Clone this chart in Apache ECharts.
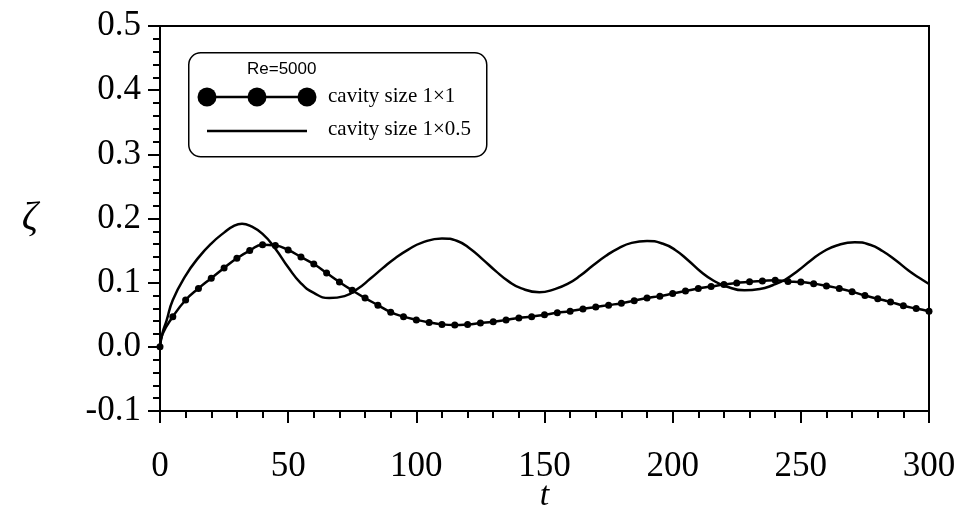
<!DOCTYPE html>
<html>
<head>
<meta charset="utf-8">
<script src="https://cdn.jsdelivr.net/npm/echarts@6/dist/echarts.min.js"></script>
<style>
  html, body { margin: 0; padding: 0; background: #fff; }
  #main { width: 962px; height: 513px; }
</style>
</head>
<body>
<div id="main"></div>
<script>
// cavity 1x1 : markers every 5 time units (the t=1 point only shapes the start)
var tSquare = [0, 1, 5, 10, 15, 20, 25, 30, 35, 40, 45, 50, 55, 60, 65, 70, 75, 80, 85, 90, 95,
  100, 105, 110, 115, 120, 125, 130, 135, 140, 145, 150, 155, 160, 165, 170, 175, 180, 185, 190, 195,
  200, 205, 210, 215, 220, 225, 230, 235, 240, 245, 250, 255, 260, 265, 270, 275, 280, 285, 290, 295, 300];
var zetaSquare = [0.0, 0.02, 0.047, 0.073, 0.091, 0.107, 0.123, 0.138, 0.150, 0.159, 0.158, 0.151, 0.140, 0.129, 0.115, 0.101, 0.088, 0.076, 0.065, 0.054, 0.047,
  0.042, 0.038, 0.035, 0.034, 0.035, 0.037, 0.039, 0.042, 0.045, 0.047, 0.050, 0.053, 0.0555, 0.059, 0.062, 0.065, 0.068, 0.072, 0.076, 0.079,
  0.083, 0.087, 0.091, 0.094, 0.097, 0.0995, 0.1015, 0.1026, 0.1037, 0.102, 0.101, 0.0985, 0.095, 0.091, 0.086, 0.080, 0.075, 0.070, 0.064, 0.0596, 0.0555];

// cavity 1x0.5 : plain line (peaks and troughs included)
var tHalf = [0, 1, 2.5, 5, 10, 15, 20, 25, 29, 32, 35, 40, 45, 50, 55, 60, 66, 72, 77, 82, 87, 92, 97,
  102, 110, 116, 121, 126, 131, 136, 141, 148, 154, 159, 164, 169, 174, 179, 184, 190, 196,
  201, 206, 211, 216, 221, 228, 234, 239, 244, 249, 254, 259, 264, 271, 277, 282, 287, 292, 296, 300];
var zetaHalf = [0.0, 0.022, 0.040, 0.073, 0.111, 0.139, 0.161, 0.178, 0.189, 0.192, 0.189, 0.176, 0.153, 0.124, 0.099, 0.084, 0.076, 0.079, 0.090, 0.106, 0.123, 0.139, 0.152,
  0.162, 0.169, 0.165, 0.153, 0.136, 0.118, 0.102, 0.091, 0.085, 0.090, 0.098, 0.111, 0.127, 0.142, 0.154, 0.162, 0.165, 0.161,
  0.151, 0.135, 0.117, 0.103, 0.094, 0.088, 0.090, 0.096, 0.105, 0.119, 0.135, 0.149, 0.158, 0.163, 0.159, 0.149, 0.135, 0.119, 0.108, 0.098];

var legendTitle = 'Re=5000';
var nameSquare = 'cavity size 1×1';
var nameHalf = 'cavity size 1×0.5';

function pairs(ts, vs, hideAt) {
  return ts.map(function (t, i) {
    var item = { value: [t, vs[i]] };
    if (hideAt && hideAt.indexOf(t) >= 0) item.symbol = 'none';
    return item;
  });
}

var serif = 'Liberation Serif';
var tickFont = { fontFamily: serif, fontSize: 35, color: '#000' };

var myChart = echarts.init(document.getElementById('main'));
myChart.setOption({
  backgroundColor: '#fff',
  animation: false,
  grid: {
    left: 160, right: 33, top: 26, bottom: 102,
    outerBoundsMode: 'none',
    show: true, borderColor: '#000', borderWidth: 2
  },
  xAxis: {
    type: 'value', min: 0, max: 300, interval: 50,
    name: 't', nameLocation: 'middle', nameGap: 68, nameMoveOverlap: false,
    nameTextStyle: { fontFamily: serif, fontStyle: 'italic', fontSize: 34, color: '#000' },
    axisLine: { onZero: false, lineStyle: { color: '#000', width: 2 } },
    axisTick: { inside: false, length: 12, lineStyle: { color: '#000', width: 2 } },
    minorTick: { show: true, splitNumber: 5, length: 7, lineStyle: { color: '#000', width: 2 } },
    axisLabel: Object.assign({ margin: 38 }, tickFont),
    splitLine: { show: false }
  },
  yAxis: {
    type: 'value', min: -0.1, max: 0.5, interval: 0.1,
    name: 'ζ', nameLocation: 'middle', nameGap: 122, nameRotate: 0, nameMoveOverlap: false,
    nameTextStyle: { fontFamily: serif, fontStyle: 'italic', fontSize: 40, color: '#000' },
    axisLine: { lineStyle: { color: '#000', width: 2 } },
    axisTick: { inside: false, length: 12, lineStyle: { color: '#000', width: 2 } },
    minorTick: { show: true, splitNumber: 5, length: 7, lineStyle: { color: '#000', width: 2 } },
    axisLabel: Object.assign({ margin: 19, formatter: function (v) { return v.toFixed(1); } }, tickFont),
    splitLine: { show: false }
  },
  series: [
    {
      name: nameHalf,
      type: 'line',
      smooth: true,
      showSymbol: false,
      lineStyle: { color: '#000', width: 2.5 },
      data: pairs(tHalf, zetaHalf)
    },
    {
      name: nameSquare,
      type: 'line',
      smooth: true,
      symbol: 'circle',
      symbolSize: 7,
      itemStyle: { color: '#000' },
      lineStyle: { color: '#000', width: 2.5 },
      data: pairs(tSquare, zetaSquare, [1])
    }
  ],
  graphic: [
    {
      type: 'rect', left: 188, top: 52, z: 10,
      shape: { width: 298, height: 104, r: 12 },
      style: { fill: '#fff', stroke: '#000', lineWidth: 1.5 }
    },
    {
      type: 'text', left: 247, top: 61, z: 11,
      style: { text: legendTitle, fontFamily: 'Liberation Sans', fontSize: 17, fill: '#000' }
    },
    {
      type: 'line', z: 11,
      shape: { x1: 207, y1: 97, x2: 307, y2: 97 },
      style: { stroke: '#000', lineWidth: 2.5 }
    },
    { type: 'circle', z: 12, shape: { cx: 207, cy: 97, r: 9.5 }, style: { fill: '#000' } },
    { type: 'circle', z: 12, shape: { cx: 257, cy: 97, r: 9.5 }, style: { fill: '#000' } },
    { type: 'circle', z: 12, shape: { cx: 307, cy: 97, r: 9.5 }, style: { fill: '#000' } },
    {
      type: 'text', left: 328, top: 86, z: 11,
      style: { text: nameSquare, fontFamily: serif, fontSize: 21, fill: '#000' }
    },
    {
      type: 'line', z: 11,
      shape: { x1: 207, y1: 131, x2: 307, y2: 131 },
      style: { stroke: '#000', lineWidth: 2.5 }
    },
    {
      type: 'text', left: 328, top: 119, z: 11,
      style: { text: nameHalf, fontFamily: serif, fontSize: 21, fill: '#000' }
    }
  ]
});
</script>
</body>
</html>
